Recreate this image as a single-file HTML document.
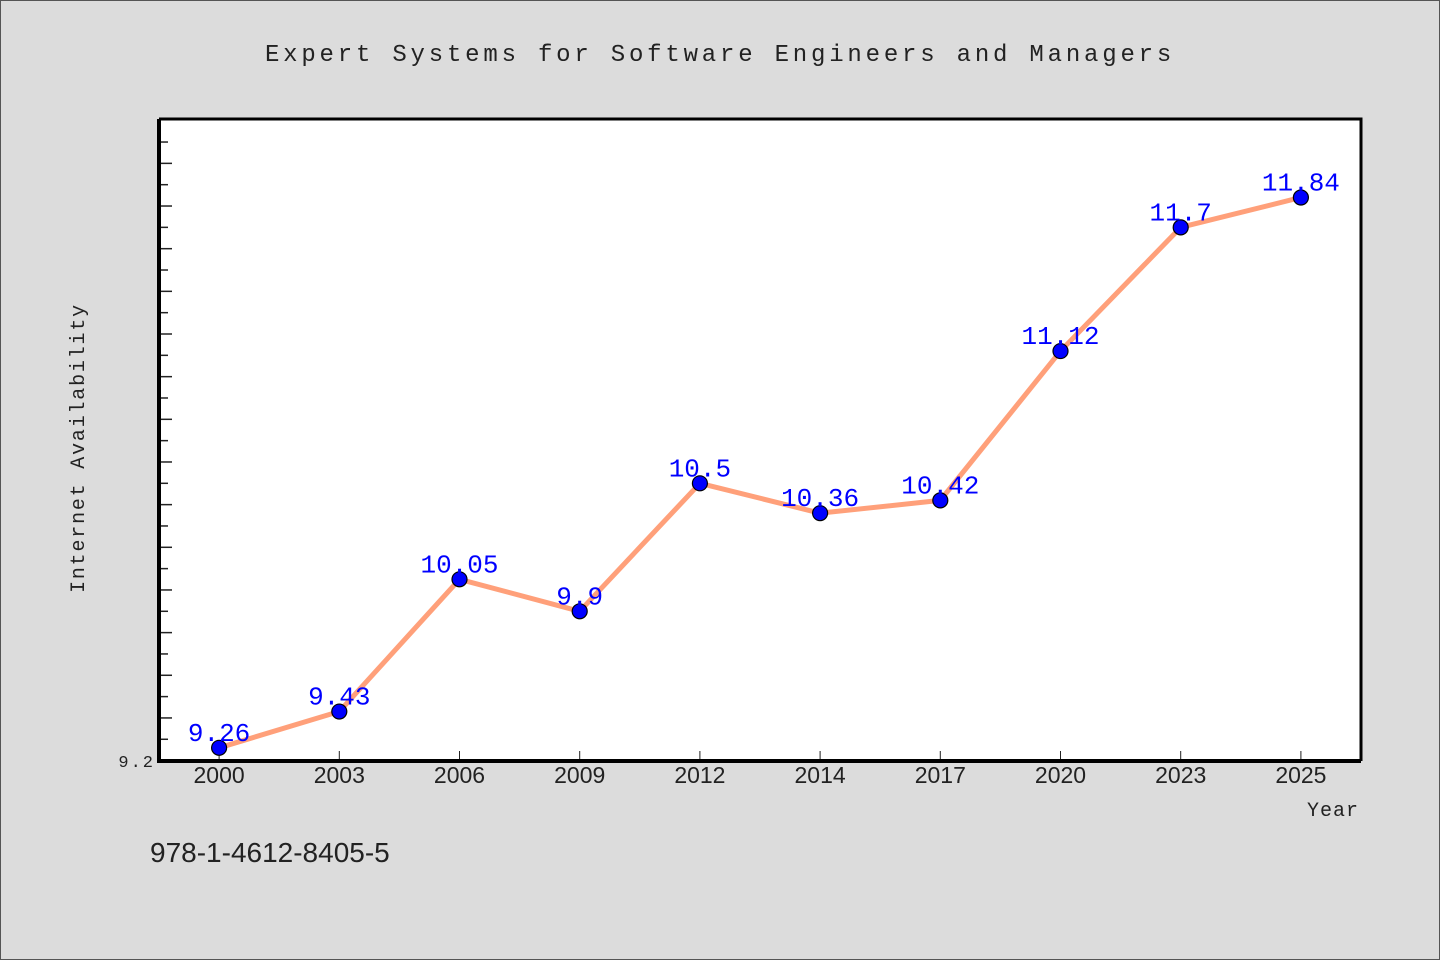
<!DOCTYPE html>
<html><head><meta charset="utf-8"><style>
body{margin:0;background:#dcdcdc;}
svg{display:block}
</style></head><body>
<svg width="1440" height="960" xmlns="http://www.w3.org/2000/svg">
<rect x="0.5" y="0.5" width="1439" height="959" fill="#dcdcdc" stroke="#555"/>
<text x="720" y="61" text-anchor="middle" font-family="Liberation Mono, monospace" font-size="24" letter-spacing="3.8" fill="#222">Expert Systems for Software Engineers and Managers</text>
<rect x="159" y="119" width="1202" height="642" fill="#fff"/>
<g id="ticks"></g>
<polyline id="line" fill="none" stroke="#ffa07a" stroke-width="5" stroke-linejoin="round"/>
<g id="pts"></g>
<path d="M159,119 H1361 V761" fill="none" stroke="#000" stroke-width="3"/>
<path d="M159,119 V761 H1361" fill="none" stroke="#000" stroke-width="4"/>
<text x="155" y="767" text-anchor="end" font-family="Liberation Mono, monospace" font-size="17" letter-spacing="2" fill="#222">9.2</text>
<text transform="translate(84,448) rotate(-90)" text-anchor="middle" font-family="Liberation Mono, monospace" font-size="20" letter-spacing="1.8" fill="#222">Internet Availability</text>
<text x="1359" y="816" text-anchor="end" font-family="Liberation Mono, monospace" font-size="20" letter-spacing="1" fill="#222">Year</text>
<text x="150" y="862" font-family="Liberation Sans, sans-serif" font-size="28" fill="#222">978-1-4612-8405-5</text>
</svg>
<script>
const years=["2000","2003","2006","2009","2012","2014","2017","2020","2023","2025"];
const values=[9.26,9.43,10.05,9.9,10.5,10.36,10.42,11.12,11.7,11.84];
const labels=["9.26","9.43","10.05","9.9","10.5","10.36","10.42","11.12","11.7","11.84"];
const NS="http://www.w3.org/2000/svg";
const x0=159,x1=1361,yMin=9.2,yBase=760.6,ppu=213.3;
const bw=(x1-x0)/years.length;
const xs=i=>x0+bw*(i+0.5);
const ys=v=>yBase-(v-yMin)*ppu;
const tk=document.getElementById('ticks');
for(let k=0;k<=29;k++){
  const y=ys(yMin+k*0.1);if(y<121)break;
  const l=document.createElementNS(NS,'line');
  
  
  const len=k%2==0?13:9;
  l.setAttribute('x1',x0);l.setAttribute('x2',x0+len);l.setAttribute('y1',y);l.setAttribute('y2',y);
  l.setAttribute('stroke','#222');l.setAttribute('stroke-width','1.5');tk.appendChild(l);
}
years.forEach((yr,i)=>{
  const l=document.createElementNS(NS,'line');
  
  
  l.setAttribute('x1',xs(i));l.setAttribute('x2',xs(i));l.setAttribute('y1',761);l.setAttribute('y2',751);
  l.setAttribute('stroke','#222');tk.appendChild(l);
  const t=document.createElementNS(NS,'text');
  
  
  t.setAttribute('x',xs(i));t.setAttribute('y',783);t.setAttribute('text-anchor','middle');
  t.setAttribute('font-family','Liberation Sans, sans-serif');t.setAttribute('font-size','23');t.setAttribute('fill','#222');
  t.textContent=yr;tk.appendChild(t);
});
document.getElementById('line').setAttribute('points',values.map((v,i)=>xs(i)+','+ys(v)).join(' '));
const pg=document.getElementById('pts');
values.forEach((v,i)=>{
  const c=document.createElementNS(NS,'circle');
  
  
  c.setAttribute('cx',xs(i));c.setAttribute('cy',ys(v));c.setAttribute('r',7.5);
  c.setAttribute('fill','#0000ff');c.setAttribute('stroke','#000');c.setAttribute('stroke-width','1.2');pg.appendChild(c);
  const t=document.createElementNS(NS,'text');
  
  
  t.setAttribute('x',xs(i));t.setAttribute('y',ys(v)-7);t.setAttribute('text-anchor','middle');
  t.setAttribute('font-family','Liberation Mono, monospace');t.setAttribute('font-size','26');t.setAttribute('fill','#0000ff');
  t.textContent=labels[i];pg.appendChild(t);
});
</script>
</body></html>
